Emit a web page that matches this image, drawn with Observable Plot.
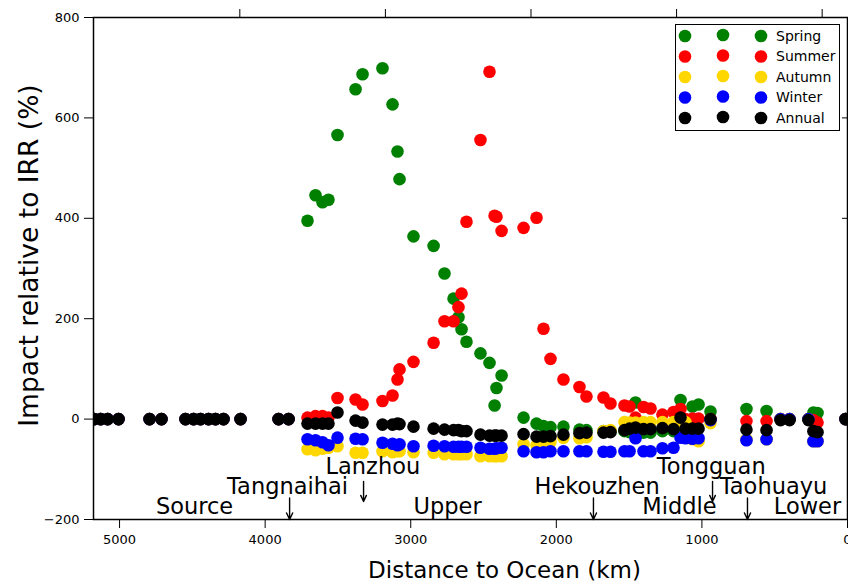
<!DOCTYPE html>
<html>
<head>
<meta charset="utf-8">
<script src="https://cdn.jsdelivr.net/npm/d3@7"></script>
<script src="https://cdn.jsdelivr.net/npm/@observablehq/plot@0.6"></script>
<style>
  body { margin: 0; background: #fff; font-family: "DejaVu Sans", sans-serif; }
  #wrap { position: relative; width: 848px; height: 583px; }
  #legend { position: absolute; left: 675px; top: 24px; }
</style>
</head>
<body>
<div id="wrap"><div id="chart"></div><div id="legend"></div></div>
<script>
// Station distances to ocean (km)
const stationKm = [5175,5130,5082,5007,4794,4712,4547,4492,4444,4389,4341,4286,4169,3908,3839,
  3709,3654,3606,3565,3503, 3379,3331, 3194,3125,3091,3077, 2981, 2843,2768,2706,2672,2651,2617,
  2521,2459,2424,2411,2376, 2225, 2136,2088,2040, 1951, 1841,1793, 1676,1628, 1532,1497,1456,
  1401,1353, 1271, 1195,1147,1113,1065,1023, 941, 694,556, 460,398, 268,234,206, 14];

const spring = [0,0,0,0,0,0,0,0,0,0,0,0,0,0,0,
  395,446,432,437,566, 657,687, 699,627,533,478, 364, 345,290,240,203,179,154,
  131,112,27,62,87, 3, -9,-14,-16, -15, -21,-22, -24,-24, -24,-26,33,
  -27,-27, -24, -24,38,-24,25,29, 15, 20,16, 0,0, 0,13,12, 0];

const summer = [0,0,0,0,0,0,0,0,0,0,0,0,0,0,0,
  3,6,6,3,42, 39,29, 36,47,79,99, 114, 152,195,195,223,250,393,
  556,692,405,403,375, 381, 401,180,120, 79, 64,45, 43,31, 27,25,3,
  24,21, 9, 14,20,0,1,1, 0, -4,-4, 0,0, 0,-2,-7, 0];

const autumn = [0,0,0,0,0,0,0,0,0,0,0,0,0,0,0,
  -60,-62,-59,-57,-54, -67,-67, -64,-66,-64,-64, -66, -67,-70,-70,-70,-70,-70,
  -74,-74,-74,-74,-74, -50, -52,-54,-45, -37, -38,-36, -24,-22, -6,-7,-7,
  -6,-6, -6, -6,-6,-6,-40,-44, -8, -40,-40, 0,0, 0,-44,-44, 0];

const winter = [0,0,0,0,0,0,0,0,0,0,0,0,0,0,0,
  -40,-42,-46,-52,-37, -39,-40, -47,-49,-52,-50, -54, -53,-54,-55,-55,-55,-55,
  -57,-59,-59,-58,-57, -64, -66,-66,-64, -64, -64,-64, -65,-65, -64,-64,-38,
  -64,-64, -58, -57,-37,-38,-39,-38, -2, -42,-40, 0,0, 0,-44,-44, 0];

const annual = [0,0,0,0,0,0,0,0,0,0,0,0,0,0,0,
  -9,-9,-9,-9,13, -3,-7, -11,-11,-9,-10, -15, -19,-21,-22,-22,-24,-24,
  -31,-33,-33,-33,-33, -30, -35,-35,-34, -31, -28,-27, -27,-26, -22,-19,-17,
  -20,-20, -18, -20,3,-19,-19,-19, 0, -21,-22, -2,-2, -2,-24,-26, 0];

const seriesNames = ["Spring", "Summer", "Autumn", "Winter", "Annual"];
const seriesColors = ["#008000", "#ff0000", "#ffd700", "#0000ff", "#000000"];
const seriesValues = [spring, summer, autumn, winter, annual];

const xTicks = [5000, 4000, 3000, 2000, 1000, 0];
const xTopTicks = [4174, 3174, 2174, 1174, 174];
const yTicks = [-200, 0, 200, 400, 600, 800];
const yRightTicks = [600, 400];

// Reach labels (no arrow)
const reachLabels = ["Source", "Upper", "Middle", "Lower"];
const reachKm = [4485, 2747, 1154, 275];
const reachY = [-174, -174, -174, -174];

// Station annotations with arrows
const stationLabels = ["Tangnaihai", "Lanzhou", "Hekouzhen", "Tongguan", "Taohuayu"];
const stationLabelKm = [3846, 3260, 1720, 936, 508];
const stationLabelY = [-134, -96, -134, -96, -134];
const arrowKm = [3832, 3324, 1745, 927, 687];
const arrowFrom = [-157, -124, -157, -124, -157];
const arrowTo = [-200, -164, -200, -164, -200];

const points = seriesNames.flatMap((s, j) =>
  stationKm.map((km, i) => ({ km, v: seriesValues[j][i], s })));
const reach = reachLabels.map((label, i) => ({ label, km: reachKm[i], y: reachY[i] }));
const stations = stationLabels.map((label, i) => ({ label, km: stationLabelKm[i], y: stationLabelY[i] }));
const arrows = arrowKm.map((km, i) => ({ km, y1: arrowFrom[i], y2: arrowTo[i] }));

const chart = Plot.plot({
  width: 848,
  height: 583,
  marginLeft: 93,
  marginRight: 1,
  marginTop: 17,
  marginBottom: 64,
  style: { fontFamily: "DejaVu Sans", fontSize: "13px", color: "#000", background: "#fff" },
  x: { domain: [5179, 0] },
  y: { domain: [-200, 800] },
  color: { domain: seriesNames, range: seriesColors },
  marks: [
    Plot.dot(points, { x: "km", y: "v", fill: "s", r: 6.3, clip: true }),
    Plot.text(reach, { x: "km", y: "y", text: "label", fontSize: 22.5, fill: "#000" }),
    Plot.text(stations, { x: "km", y: "y", text: "label", fontSize: 22.5, fill: "#000" }),
    Plot.arrow(arrows, { x1: "km", x2: "km", y1: "y1", y2: "y2", stroke: "#000", strokeWidth: 1.4, headLength: 8, headAngle: 50 }),
    Plot.axisX({ ticks: xTicks, tickFormat: "d", tickSize: 9, tickPadding: 6, fontSize: 13, label: null }),
    Plot.axisX({ anchor: "top", ticks: xTopTicks, tickFormat: () => "", tickSize: 9, label: null }),
    Plot.axisY({ ticks: yTicks, tickFormat: "d", tickSize: 9, tickPadding: 5, fontSize: 13, label: null }),
    Plot.axisY({ anchor: "right", ticks: yRightTicks, tickFormat: () => "", tickSize: -6, label: null }),
    Plot.text(["Distance to Ocean (km)"], { frameAnchor: "bottom", textAnchor: "middle", lineAnchor: "middle", dy: 51, dx: 34, fontSize: 23, fill: "#000" }),
    Plot.text(["Impact relative to IRR (%)"], { frameAnchor: "left", textAnchor: "middle", lineAnchor: "middle", dx: -64, dy: -13, rotate: -90, fontSize: 26.5, fill: "#000" }),
    Plot.frame({ stroke: "#000", strokeWidth: 1.5 })
  ]
});
document.getElementById("chart").appendChild(chart);

// Legend (three markers per entry, matplotlib style)
const lg = d3.select("#legend").append("svg").attr("width", 166).attr("height", 108);
lg.append("rect").attr("x", 0.5).attr("y", 0.5).attr("width", 164).attr("height", 106)
  .attr("fill", "#fff").attr("stroke", "#000").attr("stroke-width", 1);
seriesNames.forEach((name, i) => {
  const cy = 12 + i * 20.5;
  [10, 48, 86].forEach((cx, k) => {
    lg.append("circle").attr("cx", cx).attr("cy", k === 1 ? cy - 1 : cy).attr("r", 6.3).attr("fill", seriesColors[i]);
  });
  lg.append("text").attr("x", 101).attr("y", cy).attr("dy", "0.35em")
    .attr("font-family", "DejaVu Sans").attr("font-size", 14).attr("fill", "#000").text(name);
});
</script>
</body>
</html>
